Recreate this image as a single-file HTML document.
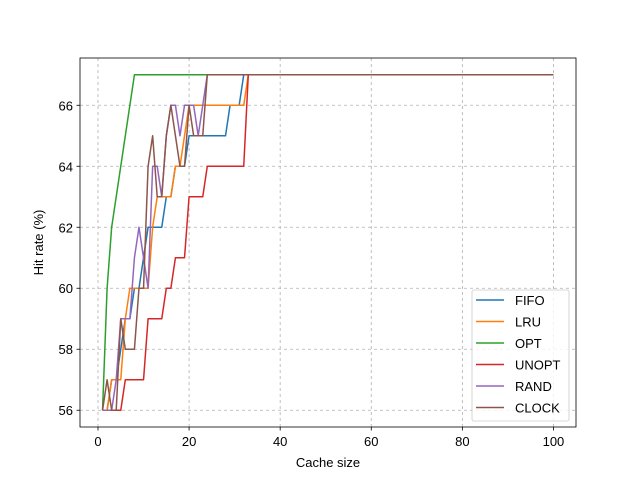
<!DOCTYPE html>
<html><head><meta charset="utf-8"><style>
body{margin:0;background:#fff;font-family:"Liberation Sans","DejaVu Sans",sans-serif}
</style></head><body>
<svg id="chart" width="640" height="480" xmlns="http://www.w3.org/2000/svg"></svg>
<script>
const xs = [1,2,3,4,5,6,7,8,9,10,11,12,13,14,15,16,17,18,19,20,21,22,23,24,25,26,27,28,29,30,31,32,33,100];
const fifo  = [56,56,57,57,58,59,59,60,60,61,62,62,62,62,63,63,64,64,64,65,65,65,65,65,65,65,65,65,66,66,66,67,67,67];
const lru   = [56,56,57,57,57,59,60,60,60,60,60,62,63,63,63,63,64,64,65,66,66,66,66,66,66,66,66,66,66,66,66,66,67,67];
const opt   = [56,60,62,63,64,65,66,67,67,67,67,67,67,67,67,67,67,67,67,67,67,67,67,67,67,67,67,67,67,67,67,67,67,67];
const unopt = [56,56,56,56,56,57,57,57,57,57,59,59,59,59,60,60,61,61,61,63,63,63,63,64,64,64,64,64,64,64,64,64,67,67];
const rand  = [56,56,56,57,59,59,59,61,62,61,60,64,64,63,65,66,66,65,66,66,66,65,66,67,67,67,67,67,67,67,67,67,67,67];
const clock = [56,57,56,56,59,58,58,58,60,60,64,65,63,63,65,66,65,64,64,66,65,65,65,67,67,67,67,67,67,67,67,67,67,67];
const seriesNames = ["FIFO","LRU","OPT","UNOPT","RAND","CLOCK"];
const seriesData = [fifo,lru,opt,unopt,rand,clock];
const colors = ["#1f77b4","#ff7f0e","#2ca02c","#d62728","#9467bd","#8c564b"];
const xTicks = [0,20,40,60,80,100];
const yTicks = [56,58,60,62,64,66];

const svg = document.getElementById('chart');
const NS = "http://www.w3.org/2000/svg";
const L=80,R=576,T=58,B=427;
const xmin=-3.95,xmax=104.95,ymin=55.45,ymax=67.55;
const X=v=>L+(v-xmin)/(xmax-xmin)*(R-L);
const Y=v=>B-(v-ymin)/(ymax-ymin)*(B-T);
function el(t,a,p){const e=document.createElementNS(NS,t);for(const k in a)e.setAttribute(k,a[k]);(p||svg).appendChild(e);return e;}

xTicks.forEach(t=>{
  const g=el('line',{x1:X(t),x2:X(t),y1:T,y2:B,stroke:'#b0b0b0','stroke-width':0.8,'stroke-dasharray':'3,3'});
  
  
});
yTicks.forEach(t=>{
  const g=el('line',{x1:L,x2:R,y1:Y(t),y2:Y(t),stroke:'#b0b0b0','stroke-width':0.8,'stroke-dasharray':'3,3'});
  
  
});
seriesData.forEach((d,i)=>{
  const p=el('polyline',{points:xs.map((x,j)=>X(x)+','+Y(d[j])).join(' '),fill:'none',stroke:colors[i],'stroke-width':1.5,'stroke-linejoin':'round'});
  
  
});
const f=el('rect',{x:L,y:T,width:R-L,height:B-T,fill:'none',stroke:'#000','stroke-width':0.8});


xTicks.forEach(t=>{
  el('line',{x1:X(t),x2:X(t),y1:B,y2:B+3.5,stroke:'#000','stroke-width':0.8});
  const tx=el('text',{x:X(t),y:B+19,'font-size':13,'text-anchor':'middle',fill:'#000'});
  tx.textContent=t;
  
  
});
yTicks.forEach(t=>{
  el('line',{x1:L-3.5,x2:L,y1:Y(t),y2:Y(t),stroke:'#000','stroke-width':0.8});
  const tx=el('text',{x:L-7,y:Y(t)+5,'font-size':13,'text-anchor':'end',fill:'#000'});
  tx.textContent=t;
  
  
});
const xt=el('text',{x:(L+R)/2,y:467,'font-size':13,'text-anchor':'middle'});
xt.textContent='Cache size';


const yt=el('text',{x:0,y:0,'font-size':13,'text-anchor':'middle',transform:`translate(43,${(T+B)/2}) rotate(-90)`});
yt.textContent='Hit rate (%)';


const lg=el('rect',{x:472,y:290,width:97,height:131,rx:2,fill:'#fff','fill-opacity':0.8,stroke:'#ccc','stroke-width':0.8});


seriesNames.forEach((n,i)=>{
  const y=300+i*21.5;
  const g=el('g',{});
  
  
  el('line',{x1:476,x2:504,y1:y,y2:y,stroke:colors[i],'stroke-width':1.5},g);
  const t=el('text',{x:515,y:y+5,'font-size':13},g);
  t.textContent=n;
});
</script>
</body></html>
